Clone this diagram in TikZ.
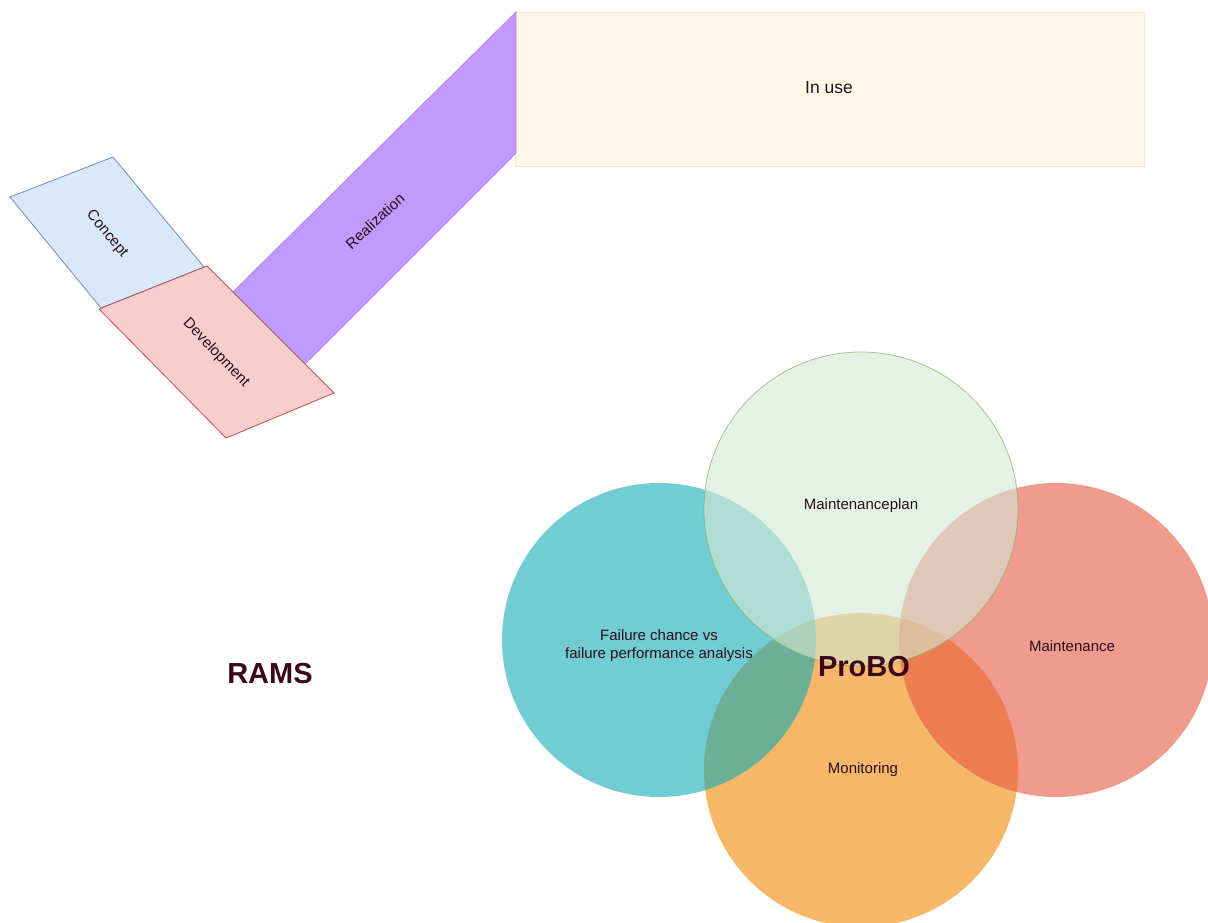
\documentclass[tikz,border=0pt]{standalone}
\usepackage{fontspec}
\setmainfont{Liberation Sans}
\definecolor{conceptfill}{HTML}{DAE8FC}
\definecolor{conceptline}{HTML}{6C8EBF}
\definecolor{devfill}{HTML}{F8CECC}
\definecolor{devline}{HTML}{B85450}
\definecolor{bandfill}{HTML}{C299FE}
\definecolor{bandline}{HTML}{AE86F0}
\definecolor{usefill}{HTML}{FFF8E7}
\definecolor{useline}{HTML}{F3E6C2}
\definecolor{tealc}{HTML}{12AAB5}
\definecolor{greenc}{HTML}{D5E8D4}
\definecolor{greenline}{HTML}{82B366}
\definecolor{redc}{HTML}{E85642}
\definecolor{orangec}{HTML}{F08705}
\definecolor{inkdark}{HTML}{2A0E1C}
\definecolor{inkbold}{HTML}{3A0818}
\tikzset{
  phase/.style={line width=0.8pt, line join=miter},
  lbl/.style={text=inkdark, font=\fontsize{15}{18}\selectfont, inner sep=0pt, align=center},
  biglbl/.style={text=inkbold, font=\fontsize{29}{34}\selectfont\bfseries, inner sep=0pt},
  venn/.style={circle, minimum size=314pt, inner sep=0pt, fill opacity=0.6, draw=none},
}
\begin{document}
\begin{tikzpicture}[x=1pt,y=-1pt]
\useasboundingbox (0,0) rectangle (1208,922);
\clip (0,0) rectangle (1208,922);

% life-cycle phases
\draw[phase, fill=usefill, draw=useline] (515,12) rectangle (1144,166);
\node[lbl, font=\fontsize{17.5}{20}\selectfont] (inuse) at (829,88) {In use};

\draw[phase, fill=bandfill, draw=bandline] (233,292) -- (516,12) -- (516,153) -- (305,364) -- cycle;
\node[lbl, rotate=43] (realization) at (375,221) {Realization};

\draw[phase, fill=conceptfill, draw=conceptline] (10,197) -- (113,157) -- (204,267) -- (101,308) -- cycle;
\node[lbl, rotate=-50] (concept) at (107,234) {Concept};

\draw[phase, fill=devfill, draw=devline] (99,309) -- (207,266) -- (334,393) -- (226,438) -- cycle;
\node[lbl, rotate=-46] (development) at (216,353) {Development};

\node[biglbl] (rams) at (270,674) {RAMS};

% overlapping ProBO fields
\node[venn, fill=orangec] (monitoring) at (861,770) {};
\node[venn, fill=tealc] (failure) at (659,640) {};
\node[venn, fill=redc] (maintenance) at (1056,640) {};
\node[venn, fill=greenc, draw=greenline, draw opacity=0.7, line width=0.8pt] (plan) at (861,509) {};

\node[lbl] (planlbl) at (861,506) {Maintenanceplan};
\node[lbl] (failurelbl) at (659,646) {Failure chance vs\\failure performance analysis};
\node[lbl] (maintlbl) at (1072,646) {Maintenance};
\node[lbl] (monlbl) at (863,770) {Monitoring};
\node[biglbl] (probo) at (864,667) {ProBO};
\end{tikzpicture}
\end{document}
